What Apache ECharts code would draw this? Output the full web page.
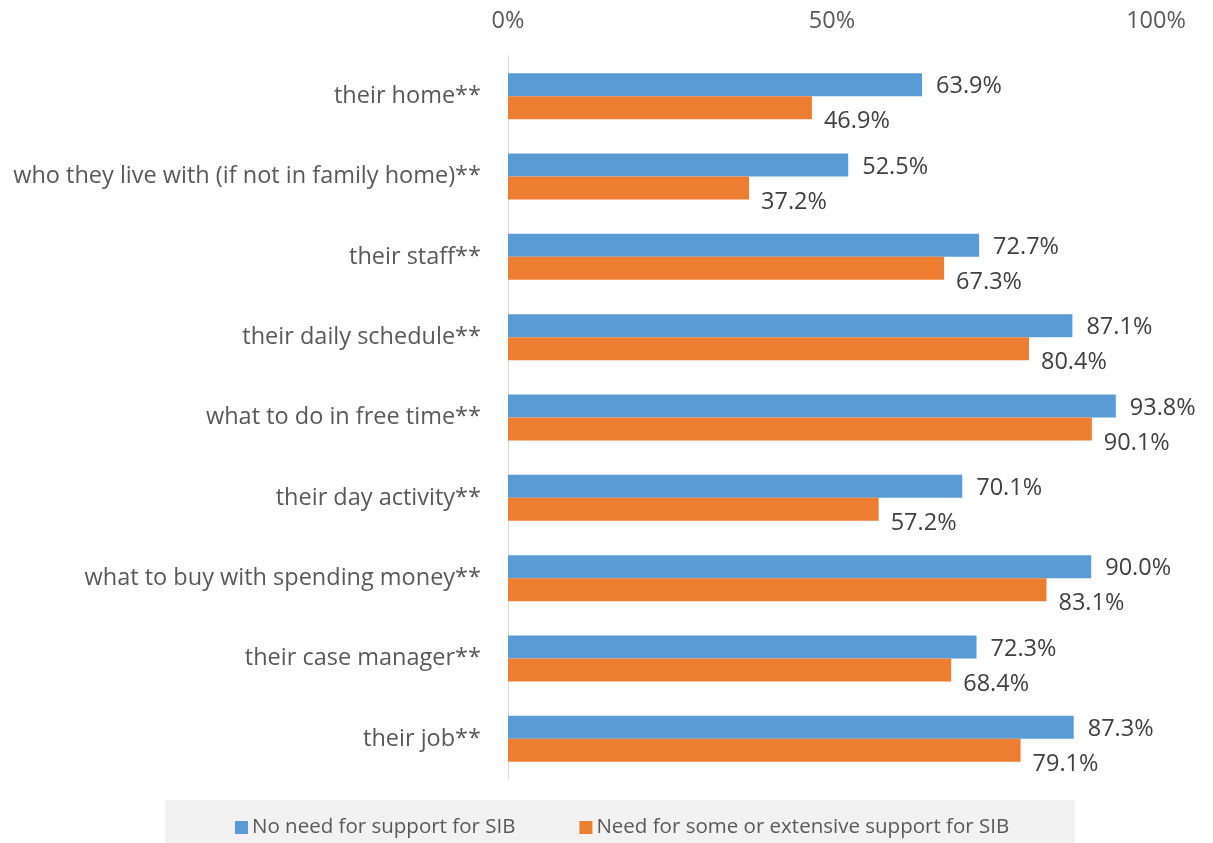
<!DOCTYPE html>
<html>
<head>
<meta charset="utf-8">
<script src="https://cdn.jsdelivr.net/npm/echarts@6/dist/echarts.min.js"></script>
<style>
  html, body { margin: 0; padding: 0; background: #ffffff; }
  #chart { width: 1213px; height: 843px; }
</style>
</head>
<body>
<div id="chart"></div>
<script>
// Choice areas, listed top to bottom
const categories = [
  'their home**',
  'who they live with (if not in family home)**',
  'their staff**',
  'their daily schedule**',
  'what to do in free time**',
  'their day activity**',
  'what to buy with spending money**',
  'their case manager**',
  'their job**'
];
const noSupportValues = [63.9, 52.5, 72.7, 87.1, 93.8, 70.1, 90.0, 72.3, 87.3];
const someSupportValues = [46.9, 37.2, 67.3, 80.4, 90.1, 57.2, 83.1, 68.4, 79.1];
const seriesNames = [
  'No need for support for SIB',
  'Need for some or extensive support for SIB'
];
const xTicks = [0, 50, 100];

const FONT = '"Open Sans", "DejaVu Sans", sans-serif';
const TEXT = '#595959';

const chart = echarts.init(document.getElementById('chart'), null, { renderer: 'canvas' });

chart.setOption({
  backgroundColor: '#ffffff',
  animation: false,
  grid: { left: 508, right: 57, top: 56, bottom: 64, containLabel: false },
  graphic: [{
    type: 'rect',
    left: 165, top: 800,
    shape: { width: 910, height: 43 },
    style: { fill: '#f2f2f2' },
    z: -1
  }],
  legend: {
    data: seriesNames,
    top: 812,
    left: 230,
    itemWidth: 13,
    itemHeight: 13,
    itemGap: 64,
    icon: 'rect',
    textStyle: { fontFamily: FONT, fontSize: 20.5, color: TEXT, padding: [0, 0, 0, -1] }
  },
  xAxis: {
    type: 'value',
    position: 'top',
    min: xTicks[0],
    max: xTicks[xTicks.length - 1],
    interval: 50,
    axisLine: { show: false },
    axisTick: { show: false },
    splitLine: { show: false },
    axisLabel: {
      formatter: v => v + '%',
      fontFamily: FONT, fontSize: 23.5, color: TEXT, margin: 23
    }
  },
  yAxis: {
    type: 'category',
    inverse: true,
    data: categories,
    axisLine: { show: true, lineStyle: { color: '#d9d9d9', width: 1 } },
    axisTick: { show: false },
    axisLabel: {
      fontFamily: FONT, fontSize: 23.5, color: TEXT, margin: 27,
      padding: [4, 0, 0, 0]
    }
  },
  series: [
    {
      name: seriesNames[0],
      type: 'bar',
      data: noSupportValues,
      barWidth: 23,
      barGap: '0%',
      itemStyle: { color: '#5b9bd5' },
      label: {
        show: true, position: 'right', distance: 14,
        offset: [0, 2],
        formatter: p => p.value.toFixed(1) + '%',
        fontFamily: FONT, fontSize: 23.5, color: '#404040'
      }
    },
    {
      name: seriesNames[1],
      type: 'bar',
      data: someSupportValues,
      barWidth: 23,
      barGap: '0%',
      itemStyle: { color: '#ed7d31' },
      label: {
        show: true, position: 'right', distance: 12,
        offset: [0, 14],
        formatter: p => p.value.toFixed(1) + '%',
        fontFamily: FONT, fontSize: 23.5, color: '#404040'
      }
    }
  ]
});
</script>
</body>
</html>
